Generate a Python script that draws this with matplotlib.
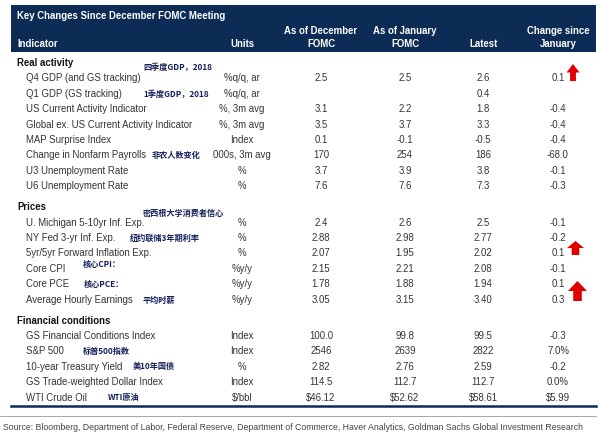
import matplotlib.pyplot as plt
from matplotlib.patches import Rectangle, FancyArrow

plt.rcParams['font.family'] = ['Liberation Sans', 'DejaVu Sans']

NAVY = '#0c2b55'
TEXT = '#333333'
NOTE = '#14205a'

title = 'Key Changes Since December FOMC Meeting'
col_heads = [('As of December', 'FOMC'), ('As of January', 'FOMC'), ('', 'Latest'),
             ('Change since', 'January')]

sections = ['Real activity', 'Prices', 'Financial conditions']

indicators = [
    ['Q4 GDP (and GS tracking)', 'Q1 GDP (GS tracking)', 'US Current Activity Indicator',
     'Global ex. US Current Activity Indicator', 'MAP Surprise Index',
     'Change in Nonfarm Payrolls', 'U3 Unemployment Rate', 'U6 Unemployment Rate'],
    ['U. Michigan 5-10yr Inf. Exp.', 'NY Fed 3-yr Inf. Exp.', '5yr/5yr Forward Inflation Exp.',
     'Core CPI', 'Core PCE', 'Average Hourly Earnings'],
    ['GS Financial Conditions Index', 'S&P 500', '10-year Treasury Yield',
     'GS Trade-weighted Dollar Index', 'WTI Crude Oil'],
]
units = [
    ['%q/q, ar', '%q/q, ar', '%, 3m avg', '%, 3m avg', 'Index', '000s, 3m avg', '%', '%'],
    ['%', '%', '%', '%y/y', '%y/y', '%y/y'],
    ['Index', 'Index', '%', 'Index', '$/bbl'],
]
dec_fomc = [
    ['2.5', '', '3.1', '3.5', '0.1', '170', '3.7', '7.6'],
    ['2.4', '2.88', '2.07', '2.15', '1.78', '3.05'],
    ['100.0', '2546', '2.82', '114.5', '$46.12'],
]
jan_fomc = [
    ['2.5', '', '2.2', '3.7', '-0.1', '254', '3.9', '7.6'],
    ['2.6', '2.98', '1.95', '2.21', '1.88', '3.15'],
    ['99.8', '2639', '2.76', '112.7', '$52.62'],
]
latest = [
    ['2.6', '0.4', '1.8', '3.3', '-0.5', '186', '3.8', '7.3'],
    ['2.5', '2.77', '2.02', '2.08', '1.94', '3.40'],
    ['99.5', '2822', '2.59', '112.7', '$58.61'],
]
change = [
    ['0.1', '', '-0.4', '-0.4', '-0.4', '-68.0', '-0.1', '-0.3'],
    ['-0.1', '-0.2', '0.1', '-0.1', '0.1', '0.3'],
    ['-0.3', '7.0%', '-0.2', '0.0%', '$5.99'],
]
# Chinese notes written on the original: (section, row, text, x, dy)
notes = [
    (0, 0, '四季度GDP，2018', 143, -11),
    (0, 1, '1季度GDP，2018', 143, 1),
    (0, 5, '非农人数变化', 152, 0),
    (1, 0, '密西根大学消费者信心', 143, -9.5),
    (1, 1, '纽约联储3年期利率', 130, 0),
    (1, 3, '核心CPI：', 83, -4),
    (1, 4, '核心PCE：', 84, 0),
    (1, 5, '平均时薪', 143, 1),
    (2, 1, '标普500指数', 83, 0),
    (2, 2, '美10年国债', 133, 0),
    (2, 4, 'WTI原油', 108, 0),
]
# red up arrows next to change values: (section, row, x centre, bottom dy, height, head width)
arrows = [(0, 0, 573, 3.6, 17, 13), (1, 2, 575.5, 2.6, 14, 17), (1, 4, 577.5, 17.8, 20, 19)]

fig = plt.figure(figsize=(6.02, 4.39), dpi=100)
ax = fig.add_axes([0, 0, 1, 1])
ax.set_xlim(0, 602)
ax.set_ylim(439, 0)
ax.axis('off')

x_left, x_right = 11, 596
col_x = [321, 405, 483, 558]
unit_x = 242
fs = 6.9
hfs = 6.9

ax.add_patch(Rectangle((x_left, 6), x_right - x_left, 47, color=NAVY, lw=0))
ax.text(17, 16, title, color='white', fontsize=hfs, fontweight='bold', va='center')
ax.text(17, 44, 'Indicator', color='white', fontsize=hfs, fontweight='bold', va='center')
ax.text(unit_x, 44, 'Units', color='white', fontsize=hfs, fontweight='bold', va='center', ha='center')
for cx, (l1, l2) in zip(col_x, col_heads):
    ax.text(cx, 31, l1, color='white', fontsize=hfs, fontweight='bold', va='center', ha='center')
    ax.text(cx, 44, l2, color='white', fontsize=hfs, fontweight='bold', va='center', ha='center')

step = 15.4
y = 63
row_y = []
for s, name in enumerate(sections):
    ax.text(17, y, name, color='#111111', fontsize=fs, fontweight='bold', va='center')
    y += step
    ys = []
    for i, ind in enumerate(indicators[s]):
        ys.append(y)
        ax.text(26, y, ind, color=TEXT, fontsize=fs, va='center')
        ax.text(unit_x, y, units[s][i], color=TEXT, fontsize=fs, va='center', ha='center')
        for cx, vals in zip(col_x, [dec_fomc, jan_fomc, latest, change]):
            ax.text(cx, y, vals[s][i], color=TEXT, fontsize=fs, va='center', ha='center')
        y += step
    row_y.append(ys)
    y += 5.6

for s, r, txt, nx, dy in notes:
    ax.text(nx, row_y[s][r] + dy, txt, color=NOTE, fontsize=5.9, fontweight='bold',
            va='center', family=['Noto Sans CJK SC', 'DejaVu Sans'])

for s, r, ax_x, dy, h, hw in arrows:
    yb = row_y[s][r] + dy
    ax.add_patch(FancyArrow(ax_x, yb, 0, -h, width=hw * 0.45, head_width=hw,
                            head_length=h * 0.5, length_includes_head=True,
                            color='#e00000', lw=0))

ax.plot([x_left, x_right], [407, 407], color=NAVY, lw=1.8)
ax.plot([0, x_right], [417, 417], color='#999999', lw=0.6)
ax.text(3, 428, 'Source: Bloomberg, Department of Labor, Federal Reserve, Department of Commerce, '
        'Haver Analytics, Goldman Sachs Global Investment Research',
        color='#444444', fontsize=6.3, va='center')

fig.savefig('out.png', dpi=100)
